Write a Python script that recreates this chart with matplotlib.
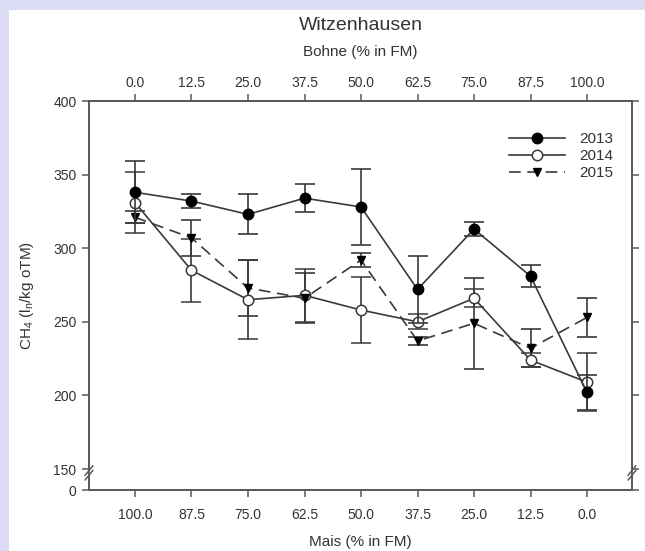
import numpy as np
import matplotlib
matplotlib.use("Agg")
import matplotlib.pyplot as plt
from matplotlib.patches import Rectangle

plt.rcParams['font.family'] = ['Liberation Sans', 'DejaVu Sans']
plt.rcParams['mathtext.fontset'] = 'custom'
plt.rcParams['mathtext.rm'] = 'Liberation Sans'
plt.rcParams['mathtext.it'] = 'Liberation Sans:italic'

# data
mais_labels = ['100.0', '87.5', '75.0', '62.5', '50.0', '37.5', '25.0', '12.5', '0.0']
bohne_labels = ['0.0', '12.5', '25.0', '37.5', '50.0', '62.5', '75.0', '87.5', '100.0']

y2013 = [338, 332, 323, 334, 328, 272, 313, 281, 202]
e2013 = [21, 5, 13.5, 9.5, 26, 23, 5, 7.5, 12]
y2014 = [331, 285, 265, 268, 258, 250, 266, 224, 209]
e2014 = [21, 21.5, 27, 18, 22.5, 5, 6, 5, 19.5]
y2015 = [321, 307, 273, 266, 292, 237, 249, 232, 253]
e2015 = [4, 12.5, 19, 17, 5, 3, 31, 13, 13]

y_ticks = [0, 150, 200, 250, 300, 350, 400]

# broken y axis: 0..150 squeezed below the break
BRK = 150
K = 0.095


def fwd(y):
    y = np.asarray(y, dtype=float)
    return np.where(y >= BRK, y, BRK - (BRK - y) * K)


def inv(t):
    t = np.asarray(t, dtype=float)
    return np.where(t >= BRK, t, BRK - (BRK - t) / K)


ink = '#3a3a3a'
axcol = '#5a5a5a'
txt = '#333333'

fig = plt.figure(figsize=(6.45, 5.51), dpi=100, facecolor='#dcdcf6')
fig.patches.append(Rectangle((9 / 645, 0), 1, 1 - 10 / 551, transform=fig.transFigure,
                             facecolor='white', edgecolor='none', zorder=-10))

ax = fig.add_axes([89 / 645, 61 / 551, 543 / 645, 389 / 551])
ax.set_yscale('function', functions=(fwd, inv))

x = np.arange(len(mais_labels))

s14 = ax.errorbar(x, y2014, yerr=e2014, color=ink, lw=1.2, elinewidth=1.2, capsize=7.5, capthick=1.2,
                  marker='o', ms=7.5, mfc='white', mec=ink, mew=1.1, zorder=3)
s15 = ax.errorbar(x, y2015, yerr=e2015, color=ink, lw=1.2, elinewidth=1.2, capsize=7.5, capthick=1.2,
                  ls=(0, (7, 4)), marker='v', ms=6, mfc='black', mec='black', zorder=3)
s13 = ax.errorbar(x, y2013, yerr=e2013, color=ink, lw=1.2, elinewidth=1.2, capsize=7.5, capthick=1.2,
                  marker='o', ms=7.5, mfc='black', mec='black', zorder=4)

ax.set_xlim(-0.814, 8.796)
ax.set_ylim(0, 400)
ax.set_yticks(y_ticks)
ax.set_yticklabels([str(v) for v in y_ticks])
ax.set_xticks(x)
ax.set_xticklabels(mais_labels)
ax.set_xlabel('Mais (% in FM)', fontsize=11, color=txt, labelpad=9)
ax.set_ylabel(r'CH$_\mathregular{4}$ (l$_\mathregular{n}$/kg oTM)', fontsize=11, color=txt, labelpad=12)

ax2 = ax.twiny()
ax2.set_xlim(ax.get_xlim())
ax2.set_xticks(x)
ax2.set_xticklabels(bohne_labels)
ax2.set_xlabel('Bohne (% in FM)', fontsize=11, color=txt, labelpad=14)

for a in (ax, ax2):
    for s in a.spines.values():
        s.set_color(axcol)
        s.set_linewidth(1.3)
    a.tick_params(direction='out', length=5, width=1.1, color=axcol, labelsize=10,
                  labelcolor=txt)
ax.tick_params(axis='x', pad=8)
ax.tick_params(axis='y', right=True, pad=4)
ax2.tick_params(axis='x', pad=3)

# axis break marks on both spines
yb = 0.044
for xs in (0, 1):
    ax.add_patch(Rectangle((xs - 0.004, yb - 0.006), 0.008, 0.012, transform=ax.transAxes,
                           facecolor='white', edgecolor='none', clip_on=False, zorder=5))
    for dy in (-0.006, 0.006):
        ax.plot([xs - 0.007, xs + 0.007], [yb + dy - 0.012, yb + dy + 0.012],
                transform=ax.transAxes, color=axcol, lw=1.1, clip_on=False, zorder=6)

leg = ax.legend([s13[0], s14[0], s15[0]], ['2013', '2014', '2015'], loc='upper right',
                bbox_to_anchor=(0.99, 0.955), frameon=False, fontsize=11,
                handlelength=3.7, labelspacing=0.2, handletextpad=0.9)
for t in leg.get_texts():
    t.set_color(txt)

fig.text(0.5 * (89 + 632) / 645, 1 - 25 / 551, 'Witzenhausen', ha='center', va='center',
         fontsize=14, color=txt)

fig.savefig('out.png', dpi=100, facecolor=fig.get_facecolor())
